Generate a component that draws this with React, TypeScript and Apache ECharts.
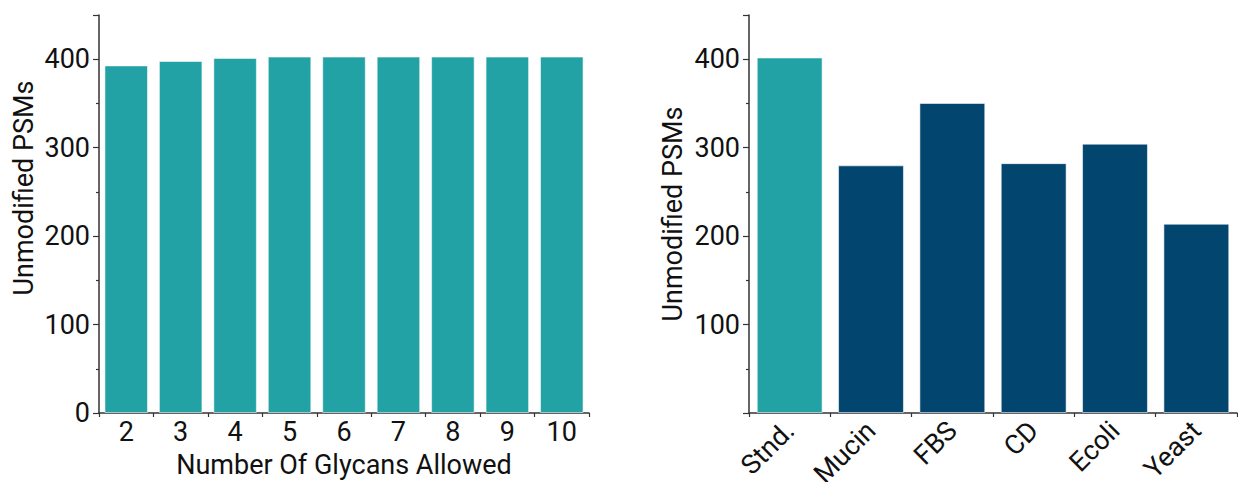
import React, { useEffect, useRef } from "react";
import * as echarts from "echarts";

const glycanCategories = ["2", "3", "4", "5", "6", "7", "8", "9", "10"];
const glycanValues = [393, 398, 401.5, 403, 403, 403, 403, 403, 403];

const sampleCategories = ["Stnd.", "Mucin", "FBS", "CD", "Ecoli", "Yeast"];
const sampleValues = [402, 280, 350.5, 282.5, 304.5, 214];

const TEAL = "#23a2a6";
const NAVY = "#02456e";
const FONT = "Roboto";
const TICK_FS = 27;
const NAME_FS = 27;

export default function App() {
  const ref = useRef<HTMLDivElement>(null);
  useEffect(() => {
    document.body.style.margin = "0";
    const chart = echarts.init(ref.current!, null, { renderer: "svg" });
    const axisLine = { show: true, lineStyle: { color: "#333", width: 1.5 } };
    const yAxisCommon = (gridIndex: number, showMin: boolean) => ({
      type: "value",
      gridIndex,
      min: 0,
      max: 450,
      interval: 100,
      axisLine,
      axisTick: { show: true, inside: false, length: 6, lineStyle: { color: "#333", width: 1.2 } },
      minorTick: { show: true, splitNumber: 2, length: 3, lineStyle: { color: "#333", width: 1.2 } },
      splitLine: { show: false },
      axisLabel: {
        showMinLabel: showMin,
        showMaxLabel: true,
        color: "#111",
        fontSize: TICK_FS,
        fontFamily: FONT,
        margin: 9,
        formatter: (v: number) => (v > 400 ? "" : String(v)),
      },
    });
    chart.setOption({
      animation: false,
      grid: [
        { left: 99, top: 15, width: 490, height: 398, outerBoundsMode: "none", containLabel: false },
        { left: 749, top: 15, width: 488, height: 398, outerBoundsMode: "none", containLabel: false },
      ],
      xAxis: [
        {
          type: "category",
          gridIndex: 0,
          data: glycanCategories,
          axisLine,
          axisTick: { show: true, alignWithLabel: false, length: 4, lineStyle: { color: "#333", width: 1.2 } },
          axisLabel: { color: "#111", fontSize: TICK_FS, fontFamily: FONT, margin: 5 },
          name: "Number Of Glycans Allowed",
          nameLocation: "middle",
          nameGap: 38,
          nameTextStyle: { color: "#111", fontSize: NAME_FS, fontFamily: FONT },
        },
        {
          type: "category",
          gridIndex: 1,
          data: sampleCategories,
          axisLine,
          axisTick: { show: true, alignWithLabel: false, length: 4, lineStyle: { color: "#333", width: 1.2 } },
          axisLabel: { color: "#111", fontSize: TICK_FS, fontFamily: FONT, margin: 13, rotate: 45, interval: 0 },
        },
      ],
      yAxis: [
        yAxisCommon(0, true),
        {
          ...yAxisCommon(1, false),
          name: "Unmodified PSMs",
          nameLocation: "middle",
          nameGap: 63,
          nameRotate: 90,
          nameTextStyle: { color: "#111", fontSize: NAME_FS, fontFamily: FONT },
        },
      ],
      graphic: [
        {
          type: "text",
          x: 24,
          y: 188,
          rotation: Math.PI / 2,
          style: {
            text: "Unmodified PSMs",
            fill: "#111",
            fontSize: NAME_FS,
            fontFamily: FONT,
            align: "center",
            verticalAlign: "middle",
          },
        },
      ],
      series: [
        {
          type: "bar",
          xAxisIndex: 0,
          yAxisIndex: 0,
          data: glycanValues,
          barCategoryGap: "20%",
          itemStyle: { color: TEAL, borderColor: "rgba(255,255,255,0.55)", borderWidth: 1 },
        },
        {
          type: "bar",
          xAxisIndex: 1,
          yAxisIndex: 1,
          barCategoryGap: "19%",
          data: sampleValues.map((v, i) => ({
            value: v,
            itemStyle: { color: i === 0 ? TEAL : NAVY },
          })),
          itemStyle: { borderColor: "rgba(255,255,255,0.55)", borderWidth: 1 },
        },
      ],
    });
    return () => chart.dispose();
  }, []);
  return <div ref={ref} style={{ width: 1238, height: 482 }} />;
}
